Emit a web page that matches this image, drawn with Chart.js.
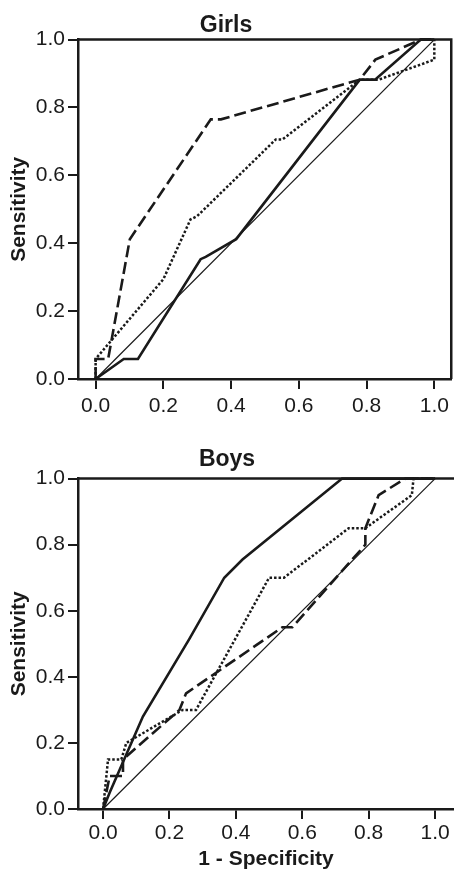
<!DOCTYPE html>
<html>
<head>
<meta charset="utf-8">
<script src="https://cdn.jsdelivr.net/npm/chart.js@4.4.1/dist/chart.umd.min.js"></script>
<style>
  html, body { margin: 0; padding: 0; background: #fff; }
  #girlsChart { position: absolute; left: 0; top: 0; }
  #boysChart { position: absolute; left: 0; top: 430px; }
</style>
</head>
<body>
<canvas id="girlsChart" width="454" height="425"></canvas>
<canvas id="boysChart" width="454" height="442"></canvas>
<script>
// tick labels
const xTicks = [0, 0.2, 0.4, 0.6, 0.8, 1.0];
const yTicks = [0, 0.2, 0.4, 0.6, 0.8, 1.0];

// reference line
const refX = [0, 1];
const refY = [0, 1];

// Girls
const girlsSolidX  = [0, 0.083, 0.125, 0.31, 0.325, 0.415, 0.78, 0.825, 0.96, 1.0];
const girlsSolidY  = [0, 0.059, 0.059, 0.353, 0.36, 0.412, 0.882, 0.882, 1.0, 1.0];
const girlsDashX   = [0, 0, 0.037, 0.101, 0.34, 0.37, 0.78, 0.826, 0.96, 1.0];
const girlsDashY   = [0, 0.059, 0.059, 0.412, 0.765, 0.765, 0.882, 0.941, 1.0, 1.0];
const girlsDotX    = [0, 0, 0.2, 0.28, 0.3, 0.532, 0.552, 0.78, 0.836, 1.0, 1.0];
const girlsDotY    = [0, 0.059, 0.294, 0.47, 0.48, 0.706, 0.706, 0.882, 0.882, 0.941, 1.0];

// Boys
const boysSolidX = [0, 0.02, 0.07, 0.12, 0.26, 0.365, 0.42, 0.72, 1.0];
const boysSolidY = [0, 0.05, 0.165, 0.28, 0.515, 0.70, 0.755, 1.0, 1.0];
const boysDashX  = [0, 0.02, 0.06, 0.06, 0.23, 0.25, 0.54, 0.57, 0.79, 0.79, 0.83, 0.91, 1.0];
const boysDashY  = [0, 0.1, 0.1, 0.15, 0.3, 0.35, 0.55, 0.55, 0.8, 0.85, 0.95, 1.0, 1.0];
const boysDotX   = [0, 0.015, 0.055, 0.07, 0.24, 0.28, 0.5, 0.545, 0.74, 0.79, 0.93, 0.935, 1.0];
const boysDotY   = [0, 0.15, 0.15, 0.2, 0.3, 0.3, 0.7, 0.7, 0.85, 0.85, 0.95, 1.0, 1.0];

const ink = '#1a1a1a';
const fontFamily = "'Liberation Sans', Arial, sans-serif";

function pts(xs, ys) {
    return xs.map((x, i) => ({ x: x, y: ys[i] }));
}

function line(xs, ys, width, dash) {
    return {
        data: pts(xs, ys),
        showLine: true,
        borderColor: ink,
        borderWidth: width,
        borderDash: dash,
        pointRadius: 0,
        tension: 0,
        clip: 4
    };
}

// top / right frame lines
const framePlugin = {
    id: 'frame',
    afterDraw(chart, args, opts) {
        const a = chart.chartArea;
        const c = chart.ctx;
        c.save();
        c.strokeStyle = ink;
        c.lineWidth = 2.5;
        c.beginPath();
        c.moveTo(a.left, a.top);
        c.lineTo(opts.right ? a.right : chart.width, a.top);
        if (opts.right) c.lineTo(a.right, a.bottom);
        c.stroke();
        c.restore();
    }
};

function init_chart(id, title, series, cfg) {
    const ctx = document.getElementById(id).getContext('2d');
    new Chart(ctx, {
        type: 'scatter',
        data: {
            datasets: [
                line(refX, refY, 1.2, []),
                line(series[0], series[1], 2.6, []),
                line(series[2], series[3], 2.6, [12, 5]),
                line(series[4], series[5], 2.5, [2.5, 2])
            ]
        },
        plugins: [framePlugin],
        options: {
            responsive: false,
            animation: false,
            layout: { padding: { right: cfg.padRight, bottom: 0, left: 0, top: 0 } },
            plugins: {
                legend: { display: false },
                tooltip: { enabled: false },
                frame: { right: cfg.rightBorder },
                title: {
                    display: true,
                    text: title,
                    color: ink,
                    font: { size: 23, weight: 'bold', family: fontFamily },
                    padding: cfg.titlePad
                }
            },
            scales: {
                x: {
                    type: 'linear',
                    min: cfg.xMin,
                    max: cfg.xMax,
                    afterBuildTicks: s => { s.ticks = xTicks.map(v => ({ value: v })); },
                    afterFit: s => { s.height = cfg.xHeight; },
                    ticks: {
                        callback: v => v.toFixed(1),
                        color: ink,
                        font: { size: 21, family: fontFamily },
                        padding: cfg.xTickPad,
                        maxRotation: 0,
                        autoSkip: false
                    },
                    grid: { drawOnChartArea: false, drawTicks: true, tickLength: 10, color: ink, lineWidth: 2 },
                    border: { display: true, color: ink, width: 2.5 },
                    title: {
                        display: cfg.xTitle !== '',
                        text: cfg.xTitle,
                        color: ink,
                        font: { size: 21, weight: 'bold', family: fontFamily },
                        padding: { top: 4, bottom: 0 }
                    }
                },
                y: {
                    type: 'linear',
                    min: 0,
                    max: 1,
                    afterBuildTicks: s => { s.ticks = yTicks.map(v => ({ value: v })); },
                    afterFit: s => { s.width = 78; },
                    ticks: {
                        callback: v => v.toFixed(1),
                        color: ink,
                        font: { size: 21, family: fontFamily },
                        padding: 3
                    },
                    grid: { drawOnChartArea: false, drawTicks: true, tickLength: 10, color: ink, lineWidth: 2 },
                    border: { display: true, color: ink, width: 2.5 },
                    title: {
                        display: true,
                        text: 'Sensitivity',
                        color: ink,
                        font: { size: 21, weight: 'bold', family: fontFamily },
                        padding: { top: 7, bottom: 0 }
                    }
                }
            }
        }
    });
}

init_chart('girlsChart', 'Girls',
    [girlsSolidX, girlsSolidY, girlsDashX, girlsDashY, girlsDotX, girlsDotY],
    { xMin: -0.052, xMax: 1.05, xHeight: 46, padRight: 2, rightBorder: true, xTickPad: 5,
      titlePad: { top: 12, bottom: 0 }, xTitle: '' });

init_chart('boysChart', 'Boys',
    [boysSolidX, boysSolidY, boysDashX, boysDashY, boysDotX, boysDotY],
    { xMin: -0.0755, xMax: 1.057, xHeight: 63, padRight: 0, rightBorder: false, xTickPad: 2,
      titlePad: { top: 16, bottom: 5 }, xTitle: '1 - Specificity' });
</script>
</body>
</html>
